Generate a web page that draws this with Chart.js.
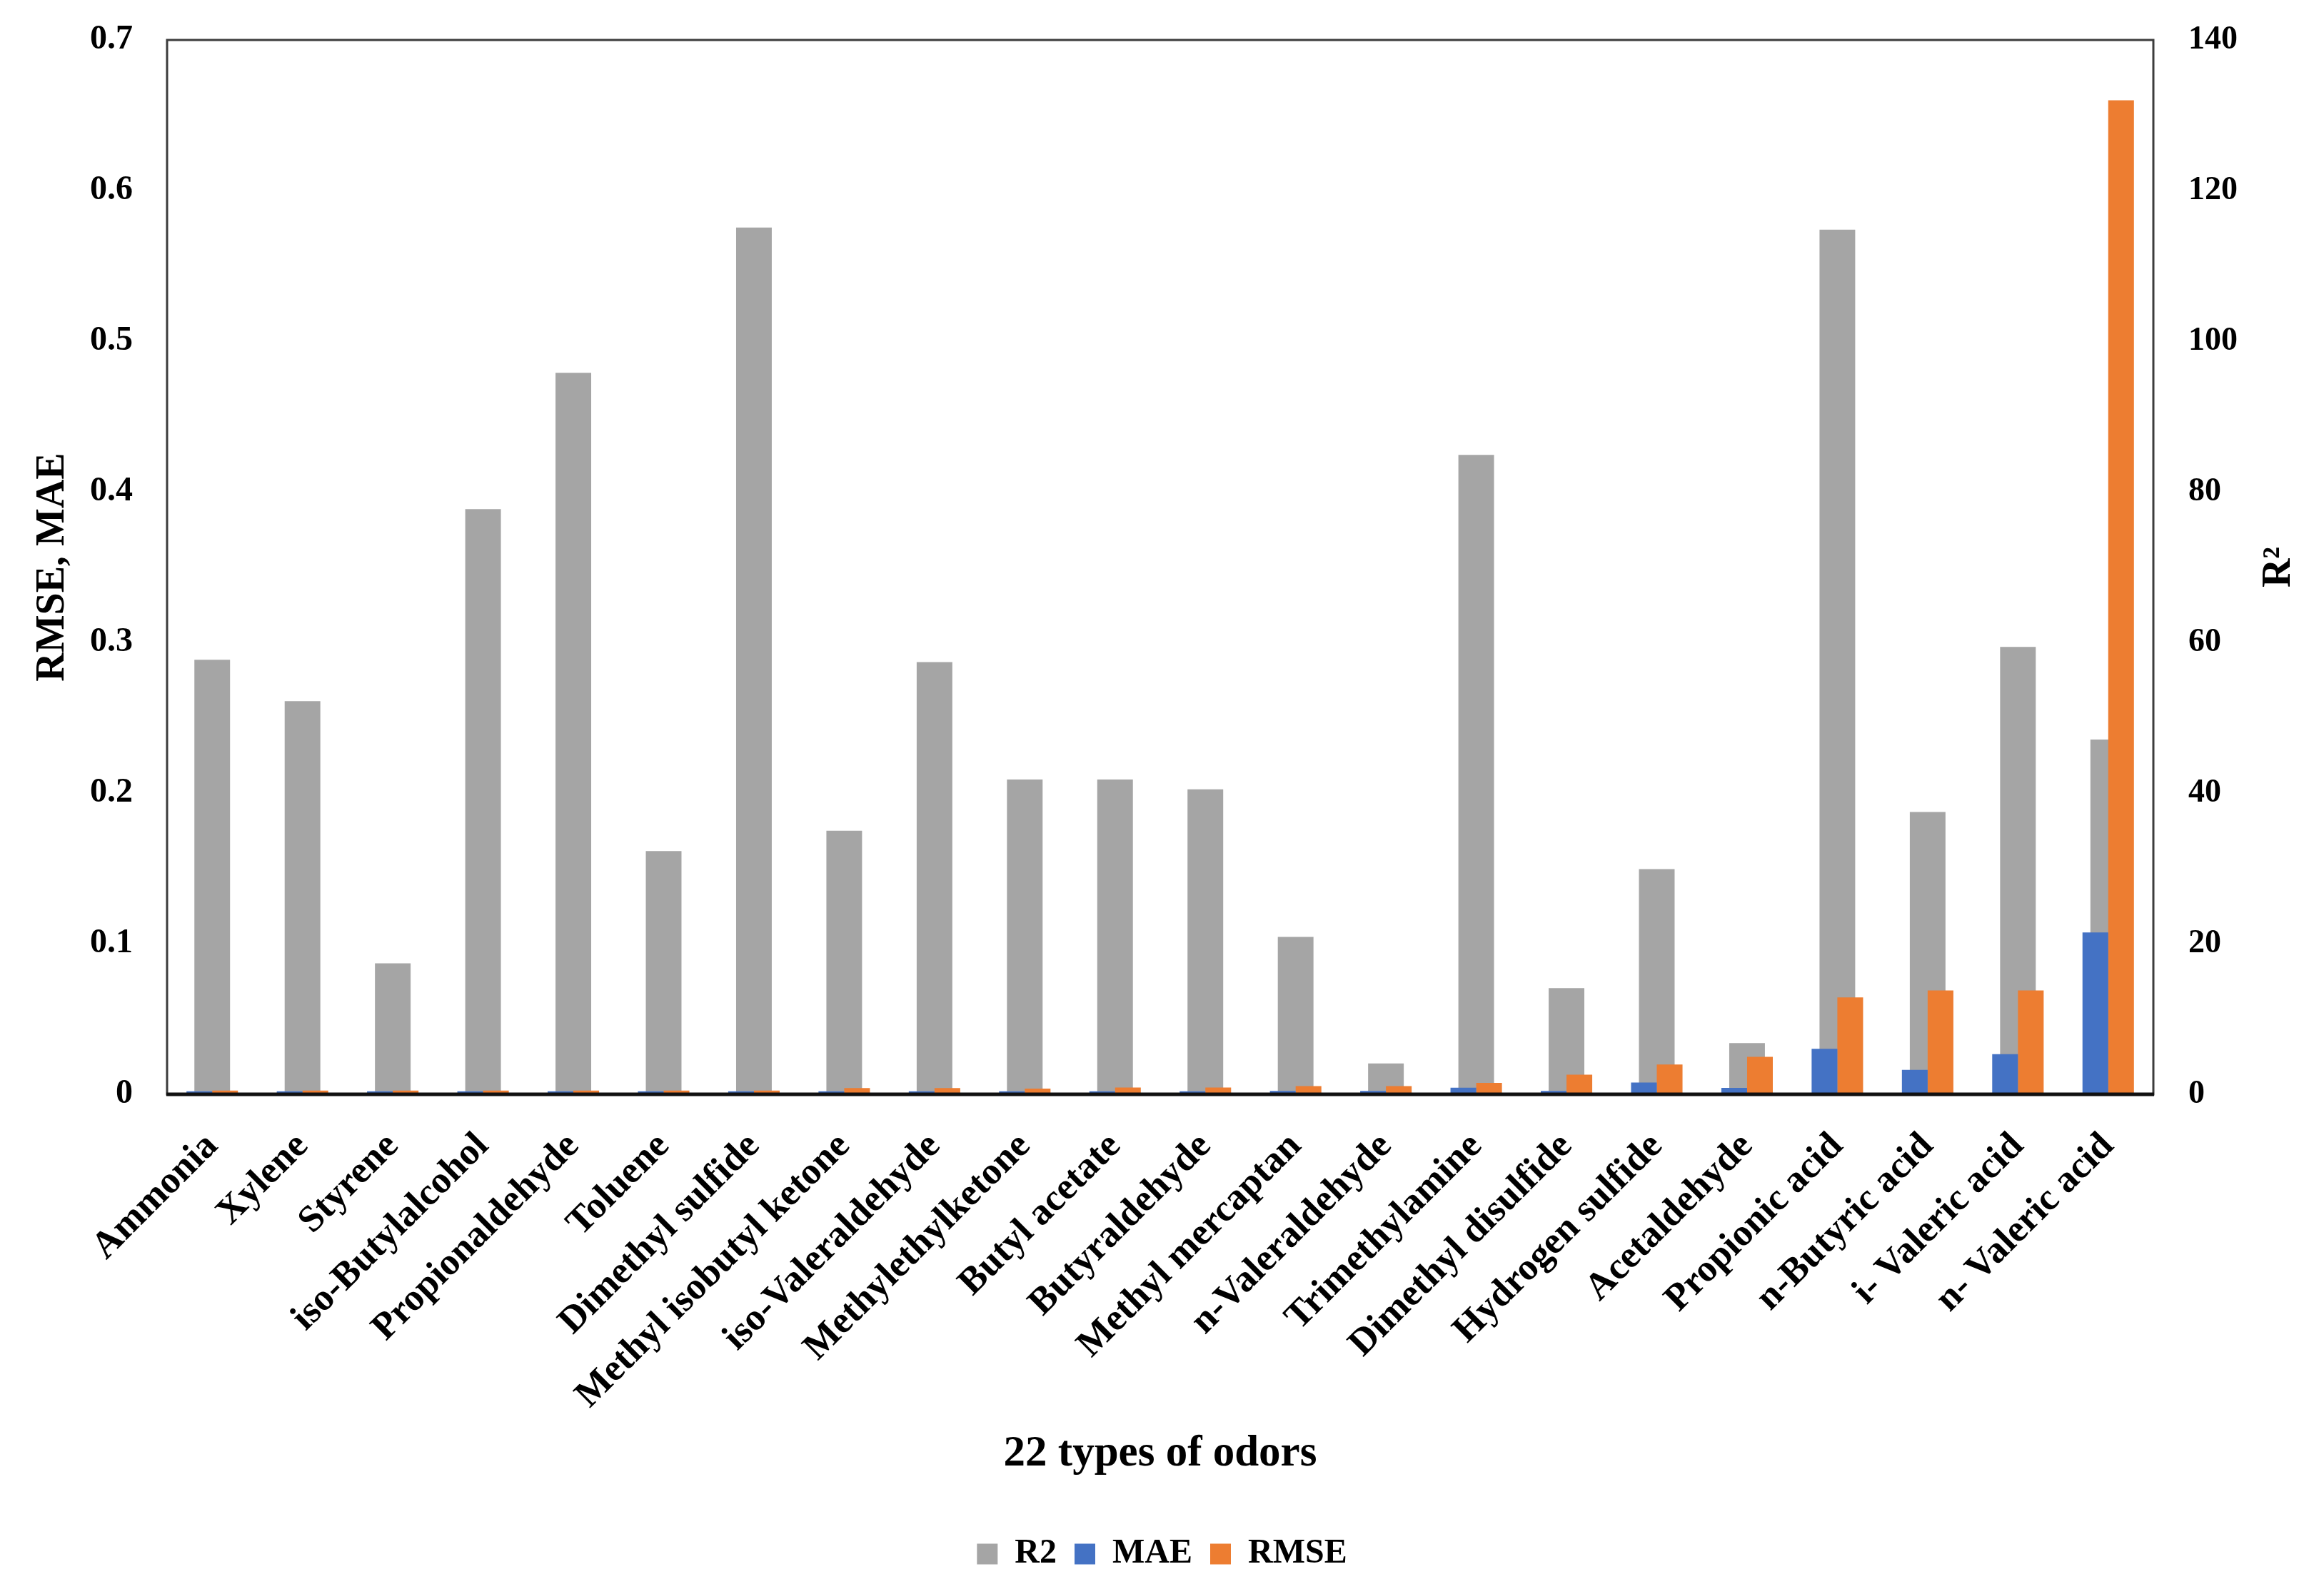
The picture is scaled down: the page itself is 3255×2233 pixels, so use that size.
<!DOCTYPE html>
<html>
<head>
<meta charset="utf-8">
<script src="https://cdn.jsdelivr.net/npm/chart.js@4.4.1/dist/chart.umd.min.js"></script>
<style>
  html,body{margin:0;padding:0;background:#fff;}
  #wrap{width:3255px;height:2233px;}
</style>
</head>
<body>
<div id="wrap"><canvas id="odorChart" width="3255" height="2233"></canvas></div>
<script>
// odor names, as written under the axis
const odors = ['Ammonia','Xylene','Styrene','iso-Butylalcohol','Propionaldehyde','Toluene','Dimethyl sulfide',
  'Methyl isobutyl ketone','iso-Valeraldehyde','Methylethylketone','Butyl acetate','Butyraldehyde','Methyl mercaptan',
  'n-Valeraldehyde','Trimethylamine','Dimethyl disulfide','Hydrogen sulfide','Acetaldehyde','Propionic acid',
  'n-Butyric acid','i- Valeric acid','n- Valeric acid'];
// R2 (right axis)
const r2Values = [57.7,52.2,17.4,77.7,95.8,32.3,115.1,35.0,57.4,41.8,41.8,40.5,20.9,4.1,84.9,14.1,29.9,6.8,114.8,37.5,59.4,47.1];
// MAE and RMSE (left axis)
const maeValues = [0.002,0.002,0.002,0.002,0.002,0.002,0.002,0.002,0.002,0.002,0.002,0.002,0.0022,0.0022,0.0044,0.0022,0.0078,0.0043,0.0302,0.0162,0.0267,0.1075];
const rmseValues = [0.0025,0.0025,0.0025,0.0025,0.0025,0.0025,0.0025,0.0042,0.0042,0.0038,0.0045,0.0045,0.0055,0.0055,0.0076,0.013,0.0198,0.0249,0.0643,0.069,0.069,0.660];
const leftTicks = [0,0.1,0.2,0.3,0.4,0.5,0.6,0.7];
const rightTicks = [0,20,40,60,80,100,120,140];

const FONT = "'Liberation Serif', 'DejaVu Serif', serif";

// frame round the plot area + rotated R² title on the right
const framePlugin = {
  id:'frame',
  afterDatasetsDraw(chart){
    const {ctx, chartArea:a} = chart;
    ctx.save();
    ctx.strokeStyle='#3c3c3c'; ctx.lineWidth=3;
    ctx.strokeRect(a.left, a.top, a.right-a.left, a.bottom-a.top);
    ctx.strokeStyle='#111'; ctx.lineWidth=5;
    ctx.beginPath(); ctx.moveTo(a.left-1, a.bottom); ctx.lineTo(a.right+1, a.bottom); ctx.stroke();
    ctx.restore();
  },
  afterDraw(chart){
    const {ctx, chartArea:a} = chart;
    ctx.save();
    ctx.translate(3193, (a.top+a.bottom)/2);
    ctx.rotate(-Math.PI/2);
    ctx.font = "bold 56px " + FONT;
    ctx.fillStyle = '#000'; ctx.textAlign='center'; ctx.textBaseline='middle';
    ctx.fillText('R\u00B2', 0, 0);
    ctx.restore();
  }
};

// vertical scales: fixed width, no extra top/bottom padding from the tick gap
const fixY = w => s => { s.width = w; s.paddingTop = 0; s.paddingBottom = 0; };

function renderChart(){
  const ctx = document.getElementById('odorChart');
  new Chart(ctx, {
    type:'bar',
    data:{
      labels: odors,
      datasets:[
        {label:'R2', data:r2Values, yAxisID:'y1', backgroundColor:'#A5A5A5', grouped:false, order:1,
         categoryPercentage:1, barPercentage:0.395},
        {label:'MAE', data:maeValues, yAxisID:'y', backgroundColor:'#4472C4', order:0,
         categoryPercentage:0.57, barPercentage:1},
        {label:'RMSE', data:rmseValues, yAxisID:'y', backgroundColor:'#ED7D31', order:0,
         categoryPercentage:0.57, barPercentage:1}
      ]
    },
    options:{
      responsive:false, animation:false, devicePixelRatio:1,
      layout:{padding:{left:0,right:0,top:56,bottom:22}},
      plugins:{
        tooltip:{enabled:false},
        legend:{position:'bottom',
          labels:{font:{family:FONT,size:48,weight:'bold'}, color:'#000', boxWidth:29, boxHeight:29, padding:25,
            sort:(a,b)=>a.datasetIndex-b.datasetIndex}}
      },
      scales:{
        x:{
          grid:{display:false, drawTicks:false}, border:{display:false},
          ticks:{font:{family:FONT,size:53,weight:'bold'}, color:'#000', minRotation:45, maxRotation:45, padding:42, autoSkip:false},
          title:{display:true, text:'22 types of odors', font:{family:FONT,size:61,weight:'bold'}, color:'#000', padding:{top:0,bottom:54}},
          afterFit(s){ s.height = 595; }
        },
        y:{
          position:'left', min:0, max:0.7,
          grid:{display:false, drawTicks:false}, border:{display:false},
          afterBuildTicks(s){ s.ticks = leftTicks.map(v=>({value:v})); },
          ticks:{font:{family:FONT,size:48,weight:'bold'}, color:'#000', padding:48, callback:v=>String(+v.toFixed(1))},
          title:{display:true, text:'RMSE, MAE', font:{family:FONT,size:56,weight:'bold'}, color:'#000', padding:{top:41,bottom:0}},
          afterFit: fixY(234)
        },
        y1:{
          position:'right', min:0, max:140,
          grid:{display:false, drawTicks:false}, border:{display:false},
          afterBuildTicks(s){ s.ticks = rightTicks.map(v=>({value:v})); },
          ticks:{font:{family:FONT,size:46,weight:'bold'}, color:'#000', padding:49},
          afterFit: fixY(239)
        }
      }
    },
    plugins:[framePlugin]
  });
}
window.addEventListener('DOMContentLoaded', renderChart);
</script>
</body>
</html>
